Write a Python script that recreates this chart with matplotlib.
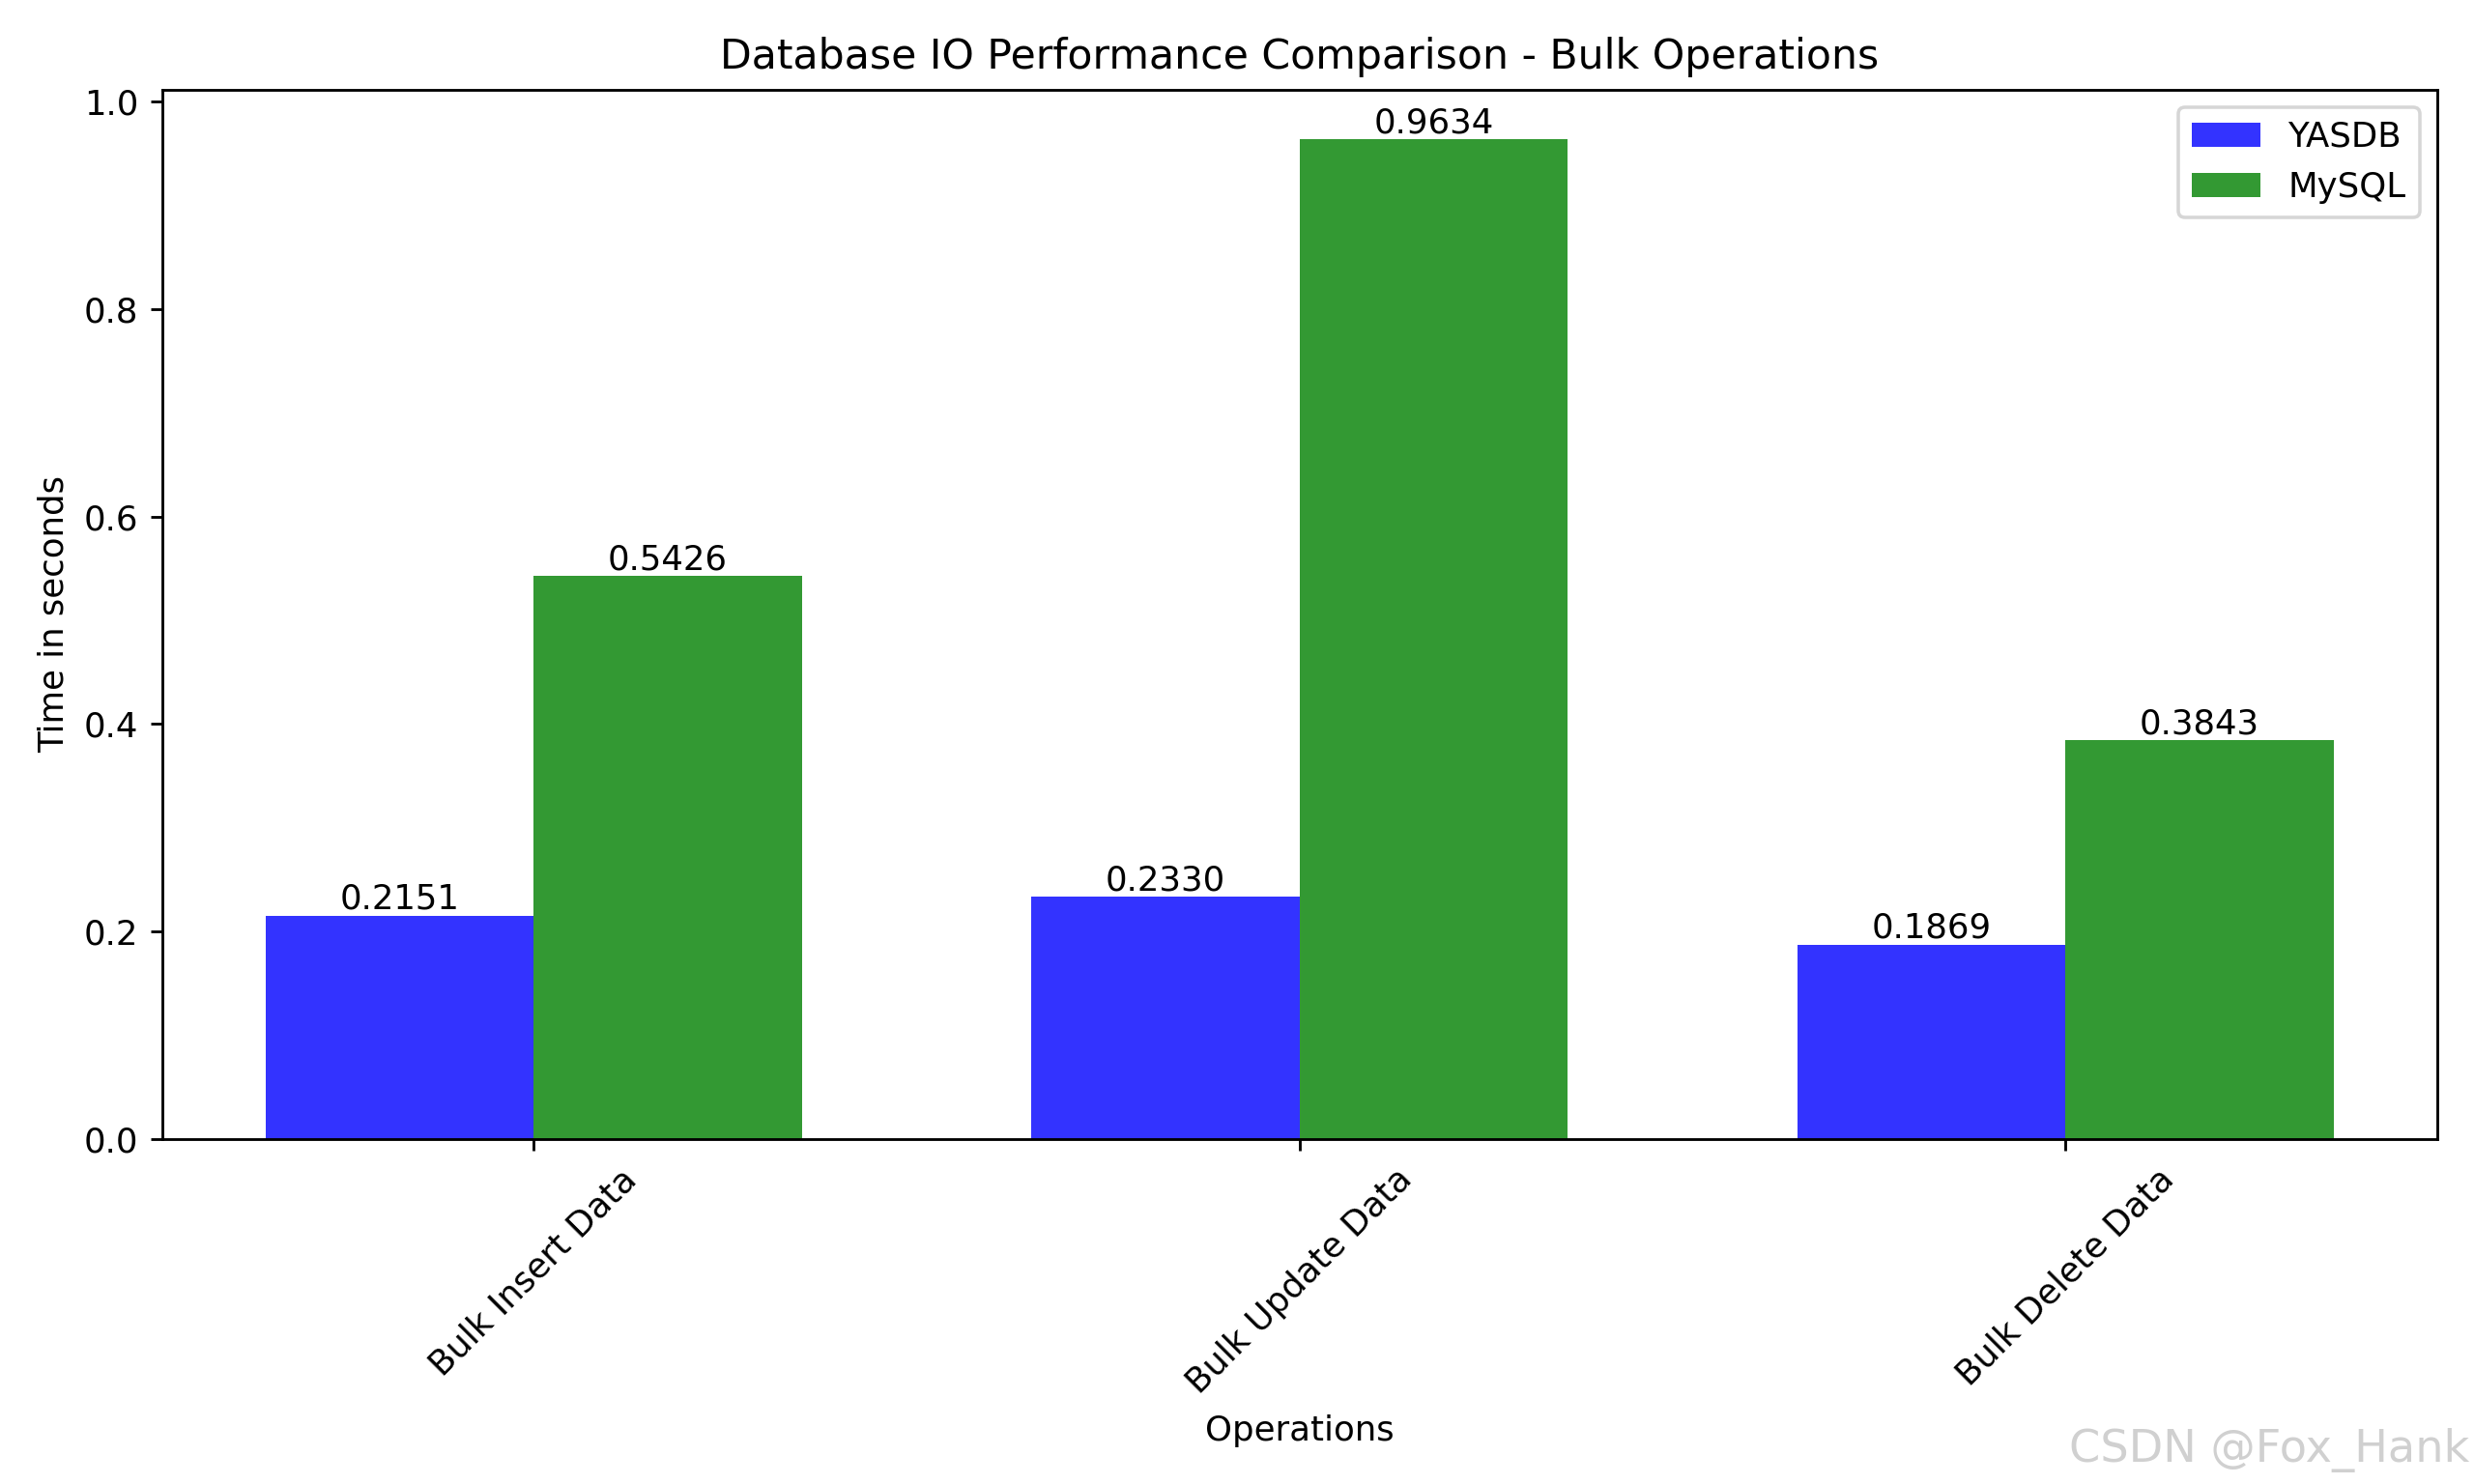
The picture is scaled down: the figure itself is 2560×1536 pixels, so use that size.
import matplotlib
matplotlib.use('Agg')
import matplotlib.pyplot as plt
import numpy as np

operations = ['Bulk Insert Data', 'Bulk Update Data', 'Bulk Delete Data']
yasdb_times = [0.2151, 0.2330, 0.1869]
mysql_times = [0.5426, 0.9634, 0.3843]

x = np.arange(len(operations))
width = 0.35

fig, ax = plt.subplots(figsize=(10, 6), dpi=256)
b1 = ax.bar(x - width / 2, yasdb_times, width, color='blue', alpha=0.8, label='YASDB')
b2 = ax.bar(x + width / 2, mysql_times, width, color='green', alpha=0.8, label='MySQL')

for bars in (b1, b2):
    for bar in bars:
        h = bar.get_height()
        ax.text(bar.get_x() + bar.get_width() / 2, h, '%.4f' % h,
                ha='center', va='bottom')

ax.set_xlabel('Operations')
ax.set_ylabel('Time in seconds')
ax.set_title('Database IO Performance Comparison - Bulk Operations')
ax.set_xticks(x)
ax.set_xticklabels(operations, rotation=45)
ax.legend()

plt.tight_layout()
fig.text(0.998, 0.008, 'CSDN @Fox_Hank', ha='right', va='bottom',
         fontsize=13, color='#d0d0d0')
plt.savefig('out.png')
